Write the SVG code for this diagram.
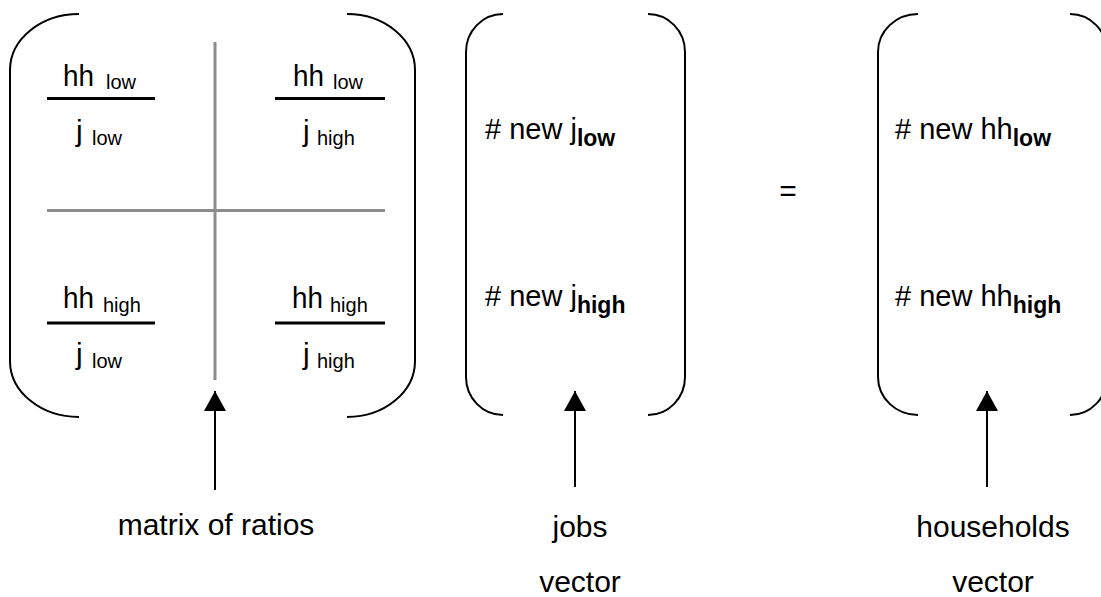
<svg xmlns="http://www.w3.org/2000/svg" width="1101" height="597" viewBox="0 0 1101 597">
<defs>
<style>
text{font-family:"Liberation Sans",Arial,sans-serif;fill:#000}
.m{font-size:30px}
.v{font-size:29px}
.s{font-size:20px}
.b{font-size:23px;font-weight:bold}
.lbl{font-size:30px;text-anchor:middle}
.br{fill:none;stroke:#000;stroke-width:2}
.grid{stroke:#8c8c8c;stroke-width:3}
.frac{stroke:#000;stroke-width:3}
.shaft{stroke:#000;stroke-width:2}
</style>
<marker id="ah" viewBox="0 0 20 22" refX="20" refY="11" markerWidth="20" markerHeight="22" markerUnits="userSpaceOnUse" orient="auto">
<path d="M0,0 L20,11 L0,22 Z" fill="#000"/>
</marker>
</defs>
<rect width="1101" height="597" fill="#fff"/>
<g id="matrix">
<path class="br" d="M79,14 A69,56 0 0 0 10,70 L10,361 A69,56 0 0 0 79,417"/>
<path class="br" d="M347,14 A68,56 0 0 1 415,70 L415,361 A68,56 0 0 1 347,417"/>
<line class="grid" x1="215" y1="42" x2="215" y2="380"/>
<line class="grid" x1="47" y1="210.5" x2="385" y2="210.5"/>
<g id="cell-tl">
<text class="m" x="63" y="86" textLength="31" lengthAdjust="spacingAndGlyphs">hh</text><text class="s" x="106" y="89">low</text>
<line class="frac" x1="47" y1="98.5" x2="155" y2="98.5"/>
<text class="m" x="76" y="141">j</text><text class="s" x="92" y="145">low</text>
</g>
<g id="cell-tr">
<text class="m" x="293" y="86" textLength="31" lengthAdjust="spacingAndGlyphs">hh</text><text class="s" x="333" y="89">low</text>
<line class="frac" x1="275" y1="98.5" x2="385" y2="98.5"/>
<text class="m" x="303" y="141">j</text><text class="s" x="317" y="145">high</text>
</g>
<g id="cell-bl">
<text class="m" x="63" y="308" textLength="31" lengthAdjust="spacingAndGlyphs">hh</text><text class="s" x="103" y="312">high</text>
<line class="frac" x1="47" y1="323" x2="155" y2="323"/>
<text class="m" x="76" y="364">j</text><text class="s" x="92" y="368">low</text>
</g>
<g id="cell-br">
<text class="m" x="292" y="308" textLength="31" lengthAdjust="spacingAndGlyphs">hh</text><text class="s" x="330" y="312">high</text>
<line class="frac" x1="275" y1="323" x2="385" y2="323"/>
<text class="m" x="303" y="364">j</text><text class="s" x="317" y="368">high</text>
</g>
</g>
<g id="jobs-vector">
<path class="br" d="M503,14 A37,38 0 0 0 466,52 L466,377 A37,38 0 0 0 503,415"/>
<path class="br" d="M648,14 A37,38 0 0 1 685,52 L685,377 A37,38 0 0 1 648,415"/>
<text class="v" x="485" y="139"># new j<tspan class="b" dy="7">low</tspan></text>
<text class="v" x="485" y="306"># new j<tspan class="b" dy="7">high</tspan></text>
</g>
<g id="equals">
<text x="788" y="201" text-anchor="middle" style="font-size:30px">=</text>
</g>
<g id="households-vector">
<path class="br" d="M918,14 A40,38 0 0 0 878,52 L878,377 A40,38 0 0 0 918,415"/>
<path class="br" d="M1070,14 A37,38 0 0 1 1107,52 L1107,377 A37,38 0 0 1 1070,415"/>
<text class="v" x="895" y="139"># new hh<tspan class="b" dy="7">low</tspan></text>
<text class="v" x="895" y="306"># new hh<tspan class="b" dy="7">high</tspan></text>
</g>
<g id="connectors">
<line class="shaft" x1="215" y1="490" x2="215" y2="391" marker-end="url(#ah)"/>
<line class="shaft" x1="575" y1="487" x2="575" y2="391" marker-end="url(#ah)"/>
<line class="shaft" x1="987" y1="487" x2="987" y2="391" marker-end="url(#ah)"/>
</g>
<g id="labels">
<text class="lbl" x="216" y="535">matrix of ratios</text>
<text class="lbl" x="580" y="537">jobs</text>
<text class="lbl" x="580" y="592">vector</text>
<text class="lbl" x="993" y="537">households</text>
<text class="lbl" x="993" y="592">vector</text>
</g>
</svg>
